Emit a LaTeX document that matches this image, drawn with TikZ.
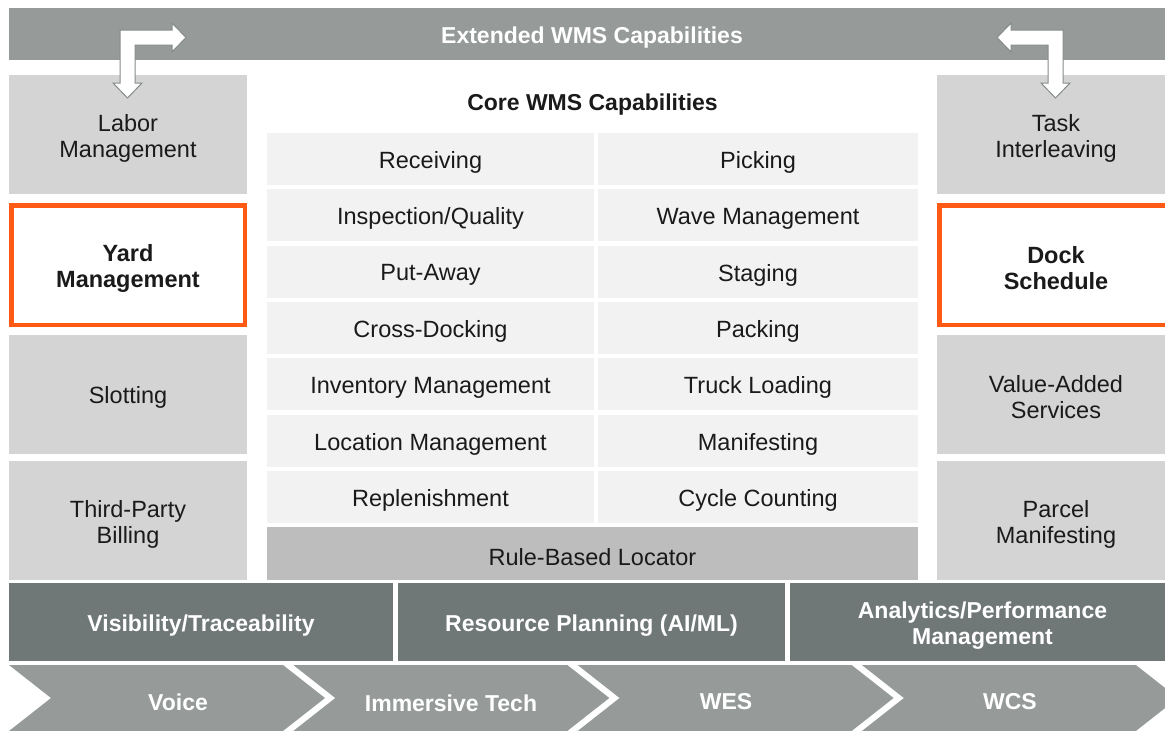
\documentclass[tikz,border=0pt]{standalone}
\usepackage{fontspec}
\setmainfont{Liberation Sans}
\definecolor{ink}{HTML}{1A1A1A}
\definecolor{midgray}{HTML}{969B9A}
\definecolor{darkgray}{HTML}{6F7777}
\definecolor{sidegray}{HTML}{D4D4D4}
\definecolor{cellgray}{HTML}{F2F2F2}
\definecolor{rulegray}{HTML}{BDBDBD}
\definecolor{accent}{HTML}{FF5A14}
\definecolor{arrowline}{HTML}{858B8A}
% box node (#1 style, #2 name, #3 x, #4 y) with its centred text #5
\newcommand\labbox[5]{%
  \node[#1] (#2) at (#3,#4) {};
  \node[txt, #1text] (#2-t) at ([yshift=-3.5pt]#2.center) {#5};}
\begin{document}
\begin{tikzpicture}[x=1pt,y=-1pt,
  base/.style={inner sep=0pt, outer sep=0pt},
  txt/.style={inner sep=0pt, outer sep=0pt, align=center, text=ink, font=\fontsize{23.5}{26}\selectfont},
  sidebox/.style={base, fill=sidegray, minimum width=238pt, minimum height=119pt},
  sideboxtext/.style={},
  hlbox/.style={base, fill=white, draw=accent, line width=4.5pt, minimum width=233.5pt, minimum height=119.5pt},
  hlboxtext/.style={font=\fontsize{23.5}{26}\selectfont\bfseries},
  lcell/.style={base, fill=cellgray, minimum width=327pt, minimum height=52pt},
  lcelltext/.style={},
  rcell/.style={base, fill=cellgray, minimum width=320pt, minimum height=52pt},
  rcelltext/.style={},
  rulebox/.style={base, fill=rulegray, minimum width=651pt, minimum height=53pt},
  ruleboxtext/.style={},
  darkbox/.style={base, fill=darkgray, minimum height=78pt},
  darkA/.style={darkbox, minimum width=384pt},
  darkB/.style={darkbox, minimum width=387pt},
  darkC/.style={darkbox, minimum width=385pt},
  darkboxtext/.style={text=white, font=\fontsize{23}{26}\selectfont\bfseries},
  darkAtext/.style={darkboxtext},
  darkBtext/.style={darkboxtext},
  darkCtext/.style={darkboxtext},
  topbar/.style={base, fill=midgray, minimum width=1166pt, minimum height=52pt},
  topbartext/.style={text=white, font=\fontsize{23}{26}\selectfont\bfseries},
  chevtext/.style={txt, text=white, font=\fontsize{23}{26}\selectfont\bfseries},
  chev/.style={fill=midgray},
  elbow/.style={fill=white, draw=arrowline, line width=1pt, line join=miter}
]
\useasboundingbox (0,0) rectangle (1165,731);
\clip (0,0) rectangle (1165,731);

% top bar
\labbox{topbar}{ext}{592}{34}{Extended WMS Capabilities}

% left column
\labbox{sidebox}{labor}{128}{134.5}{Labor\\Management}
\labbox{hlbox}{yard}{128}{265}{Yard\\Management}
\labbox{sidebox}{slot}{128}{394}{Slotting}
\labbox{sidebox}{billing}{128}{520.5}{Third-Party\\Billing}

% right column
\labbox{sidebox}{task}{1056}{134.5}{Task\\Interleaving}
\labbox{hlbox}{dock}{1056}{265}{Dock\\Schedule}
\labbox{sidebox}{vas}{1056}{394}{Value-Added\\Services}
\labbox{sidebox}{parcel}{1056}{520.5}{Parcel\\Manifesting}

% core
\node[txt, font=\fontsize{23}{26}\selectfont\bfseries] (core) at (592.5,104.5) {Core WMS Capabilities};
\foreach \k/\l/\r in {0/Receiving/Picking,
  1/Inspection\slash Quality/Wave Management,
  2/Put-Away/Staging,
  3/Cross-Docking/Packing,
  4/Inventory Management/Truck Loading,
  5/Location Management/Manifesting,
  6/Replenishment/Cycle Counting}{
  \pgfmathsetmacro{\yy}{159+56.3*\k}
  \labbox{lcell}{l\k}{430.5}{\yy}{\l}
  \labbox{rcell}{r\k}{758}{\yy}{\r}
}
\labbox{rulebox}{rule}{592.5}{553.5}{Rule-Based Locator}

% dark bar
\labbox{darkA}{vis}{201}{622}{Visibility/Traceability}
\labbox{darkB}{res}{591.5}{622}{Resource Planning (AI/ML)}
\labbox{darkC}{ana}{982.5}{622}{Analytics/Performance\\Management}

% chevrons
\foreach \i in {0,1,2,3}{
  \pgfmathsetmacro{\xa}{9+284.3*\i}
  \fill[chev] (\xa,665) -- ({\xa+274},665) -- ({\xa+316},698) -- ({\xa+274},731)
     -- (\xa,731) -- ({\xa+42},698) -- cycle;
}
\node[chevtext] (voice) at (178,702) {Voice};
\node[chevtext] (imm) at (451,703) {Immersive Tech};
\node[chevtext] (wes) at (726,702) {WES};
\node[chevtext] (wcs) at (1010,702) {WCS};

% elbow arrows
\draw[elbow] (120,30) -- (172,30) -- (172,23) -- (186,37.5) -- (172,52) -- (172,45)
  -- (135,45) -- (135,83) -- (142,83) -- (127.5,98) -- (113,83) -- (120,83) -- cycle;
\draw[elbow] (1063,30) -- (1011,30) -- (1011,23) -- (997,37.5) -- (1011,52) -- (1011,45)
  -- (1048,45) -- (1048,83) -- (1041,83) -- (1055.5,98) -- (1070,83) -- (1063,83) -- cycle;
\end{tikzpicture}
\end{document}
